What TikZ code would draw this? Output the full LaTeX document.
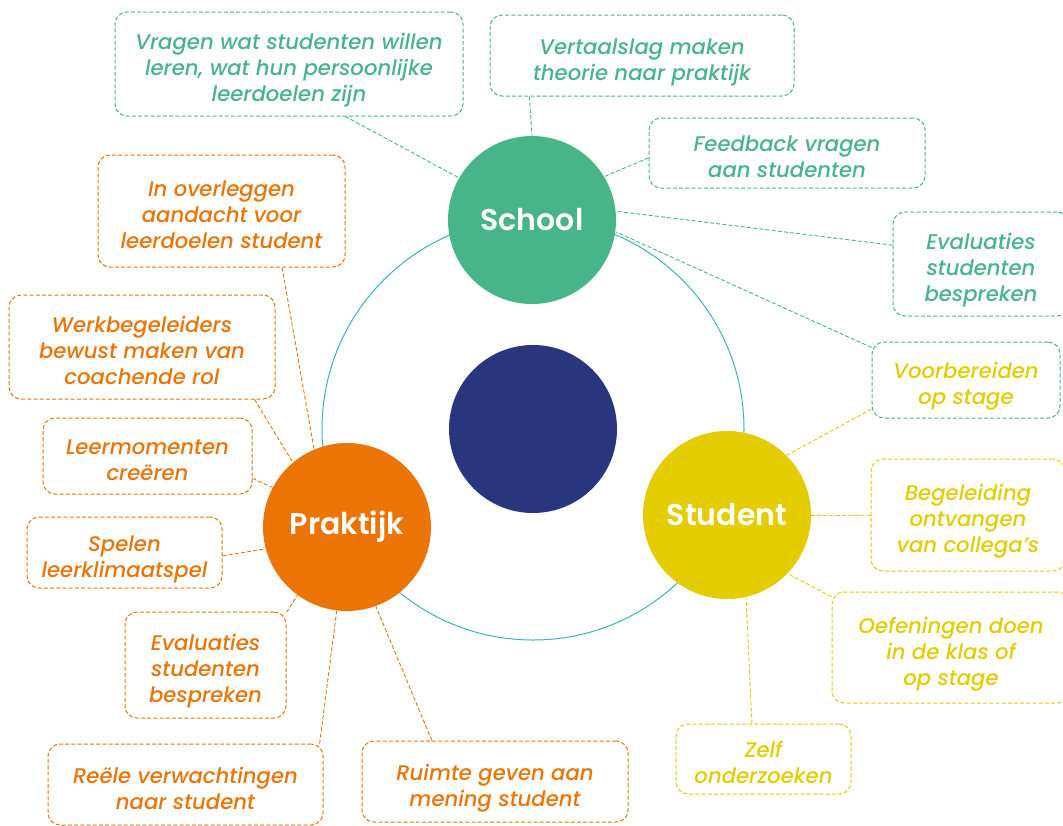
\documentclass[tikz,border=0pt]{standalone}
\usepackage{fontspec}
\setmainfont{Poppins}[UprightFont=* Medium, ItalicFont=* Medium Italic, BoldFont=* SemiBold]
\usepackage{xcolor}
\usetikzlibrary{positioning, calc}

\definecolor{schoolgreen}{RGB}{72,180,137}
\definecolor{praktijkorange}{RGB}{236,116,4}
\definecolor{studentyellow}{RGB}{227,204,0}
\definecolor{kernblue}{RGB}{41,54,126}
\definecolor{ringteal}{RGB}{58,181,184}

\tikzset{
  notebox/.style={draw, dash pattern=on 2pt off 1.1pt, line width=0.5pt, rounded corners=6pt,
    align=center, inner sep=0pt, font=\itshape\fontsize{10.6}{13}\selectfont,
    text height=24.9pt, text depth=0pt},
  threerow/.style={text height=37.9pt},
  greennote/.style={notebox, schoolgreen, text=schoolgreen},
  orangenote/.style={notebox, praktijkorange, text=praktijkorange},
  yellownote/.style={notebox, studentyellow, text=studentyellow},
  link/.style={dash pattern=on 2pt off 1.1pt, line width=0.45pt},
  hub/.style={circle, minimum size=84pt, inner sep=0pt, text=white,
    font=\bfseries\fontsize{15}{15}\selectfont}
}

\begin{document}
\begin{tikzpicture}[x=0.5pt, y=-0.5pt]
    \useasboundingbox (0,0) rectangle (1063,825);

    % Ring and centre
    \node[circle, draw=ringteal, line width=0.5pt, minimum size=211pt, inner sep=0pt] (ring) at (533,429) {};
    \node[circle, fill=kernblue, minimum size=84pt, inner sep=0pt] (kern) at (533,429) {};

    % Hubs
    \node[hub, fill=schoolgreen] (school) at (532,220) {School};
    \node[hub, fill=praktijkorange] (praktijk) at (347,527) {Praktijk};
    \node[hub, fill=studentyellow] (student) at (727,515) {Student};

    % School notes
    \node[greennote, threerow, minimum width=174pt, minimum height=52pt] (vragen) at (289,64) {Vragen wat studenten willen\\leren, wat hun persoonlijke\\leerdoelen zijn};
    \node[greennote, minimum width=152pt, minimum height=40.5pt] (vertaal) at (642,55.5) {Vertaalslag maken\\theorie naar praktijk};
    \node[greennote, minimum width=138pt, minimum height=35pt] (feedback) at (787,153) {Feedback vragen\\aan studenten};
    \node[greennote, threerow, minimum width=88pt, minimum height=52pt] (evalschool) at (981,264) {Evaluaties\\studenten\\bespreken};
    \node[greennote, text=studentyellow, minimum width=94pt, minimum height=38pt] (voorber) at (966,380) {Voorbereiden\\op stage};

    % Student notes
    \node[yellownote, threerow, minimum width=97pt, minimum height=56pt] (begel) at (968,515) {Begeleiding\\ontvangen\\van collega’s};
    \node[yellownote, threerow, minimum width=119pt, minimum height=55.5pt] (oefen) at (951,647.5) {Oefeningen doen\\in de klas of\\op stage};
    \node[yellownote, minimum width=87.5pt, minimum height=35pt] (zelf) at (763.5,759) {Zelf\\onderzoeken};

    % Praktijk notes
    \node[orangenote, threerow, minimum width=123.5pt, minimum height=56pt] (overleg) at (221.5,211) {In overleggen\\aandacht voor\\leerdoelen student};
    \node[orangenote, threerow, minimum width=133pt, minimum height=52pt] (werkbeg) at (142,347) {Werkbegeleiders\\bewust maken van\\coachende rol};
    \node[orangenote, minimum width=104.5pt, minimum height=38pt] (leermom) at (147.5,456) {Leermomenten\\creëren};
    \node[orangenote, minimum width=97.5pt, minimum height=35.5pt] (spelen) at (124.5,552.5) {Spelen\\leerklimaatspel};
    \node[orangenote, threerow, minimum width=80.5pt, minimum height=53pt] (evalprak) at (205.5,665) {Evaluaties\\studenten\\bespreken};
    \node[orangenote, minimum width=137.5pt, minimum height=40.5pt] (reeel) at (185.5,784.5) {Reële verwachtingen\\naar student};
    \node[orangenote, minimum width=133pt, minimum height=40.5pt] (ruimte) at (495,781.5) {Ruimte geven aan\\mening student};

    % Links to School
    \draw[link, schoolgreen] (vragen.-43) -- (school.150);
    \draw[link, schoolgreen] (vertaal.200) -- (school.90);
    \draw[link, schoolgreen] (feedback.182) -- (school.31);
    \draw[link, schoolgreen] (evalschool.168) -- (school.6);
    \draw[link, schoolgreen] (voorber.161) -- (school.-8);

    % Links to Student
    \draw[link, studentyellow] (voorber.197) -- (student.45);
    \draw[link, studentyellow] (begel.west) -- (student.east);
    \draw[link, studentyellow] (oefen.157) -- (student.-44);
    \draw[link, studentyellow] (zelf.108) -- (student.-77);

    % Links to Praktijk
    \draw[link, praktijkorange] (overleg.-43) -- (praktijk.113);
    \draw[link, praktijkorange] (werkbeg.-25) -- (praktijk.130);
    \draw[link, praktijkorange] (leermom.-12) -- (praktijk.152);
    \draw[link, praktijkorange] (spelen.-2) -- (praktijk.195);
    \draw[link, praktijkorange] (evalprak.33) -- (praktijk.234);
    \draw[link, praktijkorange] (reeel.17) -- (praktijk.263);
    \draw[link, praktijkorange] (ruimte.147) -- (praktijk.-70);

\end{tikzpicture}
\end{document}
